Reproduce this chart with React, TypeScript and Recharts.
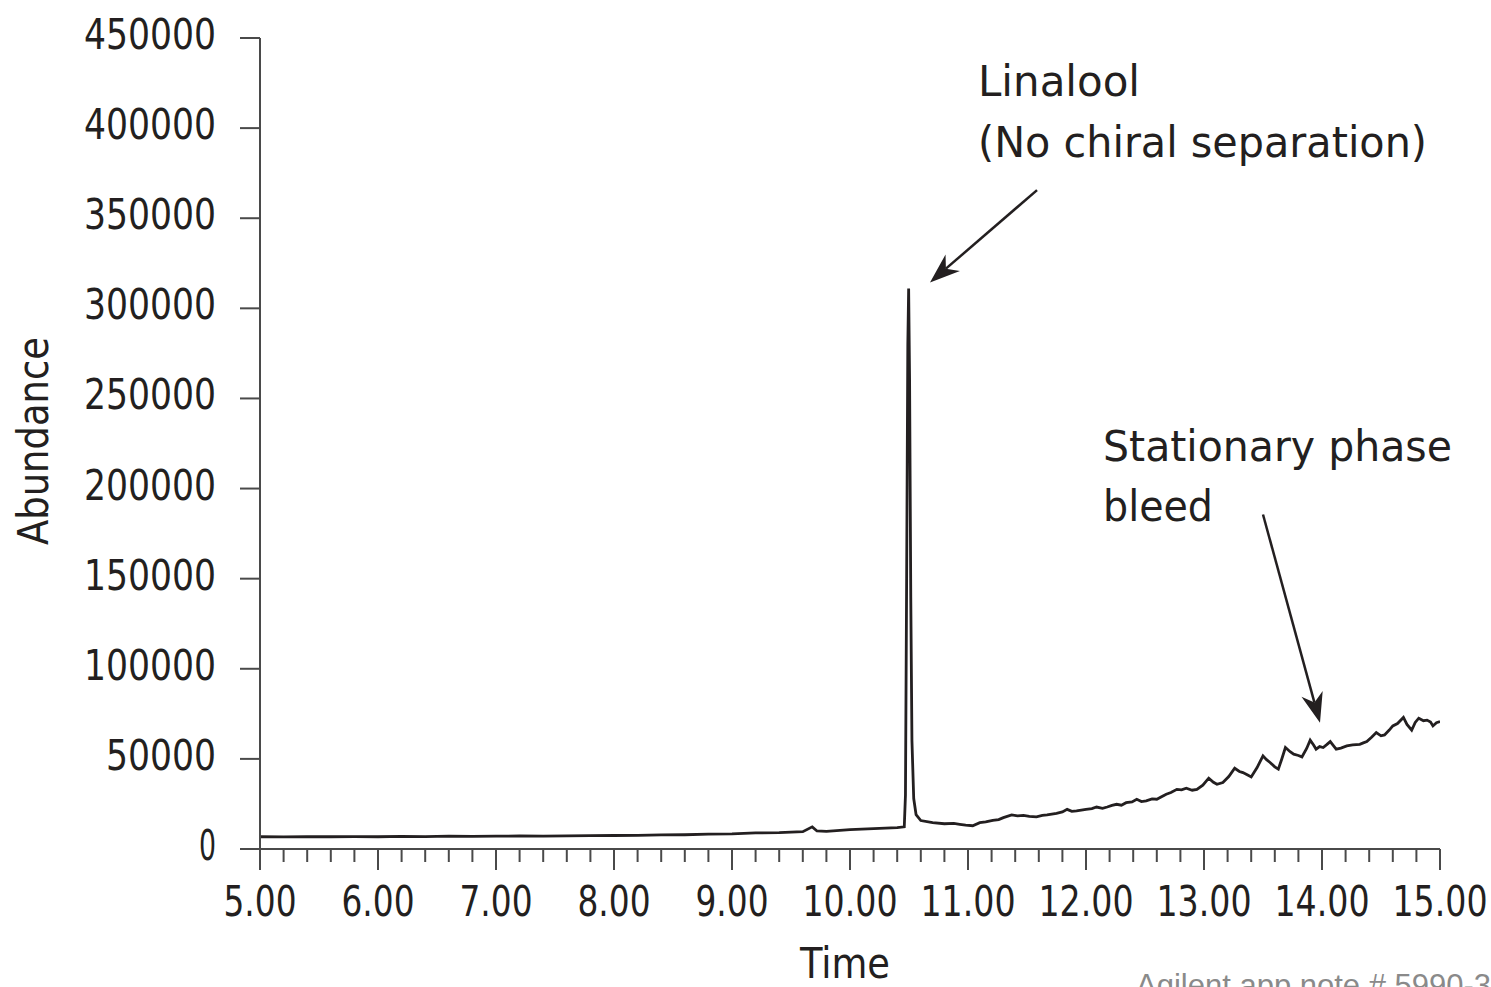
import { Line, LineChart, ReferenceLine, XAxis, YAxis } from "recharts";

const FONT = "'DejaVu Sans Condensed', 'DejaVu Sans', sans-serif";
const INK = "#231f20";
const AXIS = "#4a4a4a";

// retention time (min) and abundance, flat baseline before the linalool peak
const baselineTime = [
  5.0, 5.2, 5.4, 5.6, 5.8, 6.0, 6.2, 6.4, 6.6, 6.8, 7.0, 7.2, 7.4, 7.6, 7.8, 8.0, 8.2, 8.4,
  8.6, 8.8, 9.0, 9.2, 9.4, 9.6, 9.68, 9.72, 9.8, 10.0, 10.2, 10.4, 10.46,
];
const baselineAbundance = [
  6800, 6700, 6900, 6800, 6900, 6800, 7000, 6900, 7100, 7000, 7100, 7200, 7100, 7300, 7400,
  7500, 7600, 7800, 7900, 8200, 8400, 8900, 9100, 9600, 12300, 10000, 9800, 10800, 11300,
  11900, 12300,
];

// linalool elutes as one sharp peak (no chiral separation)
const peakTime = [10.47, 10.48, 10.49, 10.497, 10.505, 10.515, 10.525, 10.54, 10.56, 10.6, 10.7, 10.8, 10.88];
const peakAbundance = [30000, 150000, 280000, 311000, 260000, 140000, 60000, 28000, 19000, 15800, 14600, 14000, 14200];

// rising column bleed toward the end of the run
const bleedTime = [
  10.93, 10.98, 11.04, 11.1, 11.15, 11.21, 11.26, 11.3, 11.37, 11.42, 11.47, 11.52, 11.58, 11.63,
  11.67, 11.75, 11.8, 11.84, 11.88, 11.92, 12.0, 12.05, 12.09, 12.14, 12.18, 12.22, 12.26, 12.3,
  12.34, 12.39, 12.43, 12.47, 12.51, 12.56, 12.6, 12.64, 12.68, 12.72, 12.77, 12.81, 12.85, 12.9,
  12.94, 12.99, 13.04, 13.08, 13.11, 13.16, 13.21, 13.26, 13.3, 13.33, 13.37, 13.4, 13.45, 13.5,
  13.53, 13.56, 13.6, 13.63, 13.66, 13.69, 13.73, 13.76, 13.8, 13.83, 13.87, 13.9, 13.93, 13.95,
  13.98, 14.01, 14.04, 14.07, 14.1, 14.12, 14.16, 14.21, 14.26, 14.32, 14.35, 14.38, 14.42, 14.46,
  14.5, 14.53, 14.57, 14.6, 14.64, 14.69, 14.72, 14.76, 14.79, 14.82, 14.86, 14.89, 14.92, 14.94,
  14.97, 15.0,
];
const bleedAbundance = [
  13700, 13200, 12900, 14600, 15000, 15900, 16300, 17400, 18900, 18400, 18700, 18100, 17800, 18600,
  18900, 19800, 20600, 22000, 20900, 21100, 22000, 22400, 23300, 22600, 23300, 24200, 24800, 24300,
  25700, 26100, 27600, 26300, 26700, 27800, 27600, 29000, 30400, 31300, 33100, 32800, 33700, 32600,
  33100, 35400, 39300, 37000, 35900, 36900, 40200, 44800, 43000, 42400, 41000, 40000, 45200, 51700,
  49600, 48000, 45600, 44300, 50100, 56300, 54000, 52600, 51900, 51100, 55800, 60400, 57600, 55400,
  56800, 56300, 57900, 59600, 57100, 55400, 56000, 57200, 57800, 58100, 58900, 59600, 62000, 64600,
  62800, 63300, 66000, 68300, 69600, 73000, 69100, 65900, 70200, 72600, 71200, 71500, 70400, 68300,
  70100, 70700,
];

const yTicks = [0, 50000, 100000, 150000, 200000, 250000, 300000, 350000, 400000, 450000];
const xMajorTicks = [5, 6, 7, 8, 9, 10, 11, 12, 13, 14, 15];
const xTicks = xMajorTicks.flatMap((m) =>
  m === 15 ? [m] : [0, 0.2, 0.4, 0.6, 0.8].map((f) => Math.round((m + f) * 10) / 10)
);

const chartData = [
  ...baselineTime.map((t, i) => ({ time: t, abundance: baselineAbundance[i] })),
  ...peakTime.map((t, i) => ({ time: t, abundance: peakAbundance[i] })),
  ...bleedTime.map((t, i) => ({ time: t, abundance: bleedAbundance[i] })),
];

// condensed lettering: squeeze the text into a set width
function CondText({ width, children, ...rest }: any) {
  return (
    <text
      fontFamily={FONT}
      fontSize={42}
      fill={INK}
      style={{ fontStretch: "condensed" }}
      textLength={width}
      lengthAdjust="spacingAndGlyphs"
      {...rest}
    >
      {children}
    </text>
  );
}

function TimeTick(props: any) {
  const { x, y, payload } = props;
  const major = Number.isInteger(payload.value);
  const label = major ? payload.value.toFixed(2) : "";
  return (
    <g>
      <line x1={x} x2={x} y1={y} y2={y + (major ? 21 : 13)} stroke={AXIS} strokeWidth={2} />
      {major && (
        <CondText x={x} y={y + 67} textAnchor="middle" width={label.length === 4 ? 73 : 95}>
          {label}
        </CondText>
      )}
    </g>
  );
}

function AbundanceTick(props: any) {
  const { x, y, payload } = props;
  const label = String(payload.value);
  return (
    <CondText x={x} y={y + 11} textAnchor="end" width={label.length === 1 ? 17 : label.length * 22}>
      {label}
    </CondText>
  );
}

function Arrow(props: any) {
  const { x1, y1, x2, y2 } = props;
  const dx = x2 - x1;
  const dy = y2 - y1;
  const len = Math.sqrt(dx * dx + dy * dy);
  const ux = dx / len;
  const uy = dy / len;
  const head = 30;
  const half = 11;
  const bx = x2 - ux * head;
  const by = y2 - uy * head;
  const nx = x2 - ux * head * 0.7;
  const ny = y2 - uy * head * 0.7;
  const pts = [
    [x2, y2],
    [bx - uy * half, by + ux * half],
    [nx, ny],
    [bx + uy * half, by - ux * half],
  ]
    .map((p) => p.join(","))
    .join(" ");
  return (
    <g>
      <line x1={x1} y1={y1} x2={nx} y2={ny} stroke={INK} strokeWidth={2.5} />
      <polygon points={pts} fill={INK} />
    </g>
  );
}

export default function App() {
  return (
    <div
      style={{
        position: "absolute",
        left: 0,
        top: 0,
        width: 1491,
        height: 987,
        overflow: "hidden",
        background: "#fff",
      }}
    >
      <LineChart
        width={1491}
        height={987}
        data={chartData}
        margin={{ top: 38, right: 51, left: 60, bottom: 78 }}
      >
        <XAxis
          dataKey="time"
          type="number"
          domain={[5, 15]}
          ticks={xTicks}
          interval={0}
          allowDataOverflow
          height={60}
          tickSize={0}
          tickMargin={0}
          tickLine={false}
          axisLine={{ stroke: AXIS, strokeWidth: 2 }}
          tick={<TimeTick />}
        />
        <YAxis
          type="number"
          domain={[0, 450000]}
          ticks={yTicks}
          interval={0}
          width={200}
          tickSize={20}
          tickMargin={24}
          axisLine={{ stroke: AXIS, strokeWidth: 2 }}
          tickLine={{ stroke: AXIS, strokeWidth: 2 }}
          tick={<AbundanceTick />}
        />
        <Line
          dataKey="abundance"
          type="linear"
          stroke={INK}
          strokeWidth={2.8}
          dot={false}
          isAnimationActive={false}
        />
        <ReferenceLine
          segment={[
            { x: 11.585, y: 365600 },
            { x: 10.678, y: 314400 },
          ]}
          ifOverflow="visible"
          shape={<Arrow />}
        />
        <ReferenceLine
          segment={[
            { x: 13.5, y: 185600 },
            { x: 13.983, y: 70000 },
          ]}
          ifOverflow="visible"
          shape={<Arrow />}
        />
      </LineChart>
      <svg
        width={1491}
        height={987}
        style={{ position: "absolute", left: 0, top: 0, pointerEvents: "none" }}
      >
        <CondText x={978} y={96} width={162}>Linalool</CondText>
        <CondText x={978} y={157} width={449}>(No chiral separation)</CondText>
        <CondText x={1103} y={461} width={349}>Stationary phase</CondText>
        <CondText x={1103} y={521} width={110}>bleed</CondText>
        <CondText x={845} y={978} textAnchor="middle" width={90}>Time</CondText>
        <CondText x={48} y={441} textAnchor="middle" width={208} transform="rotate(-90 48 441)">
          Abundance
        </CondText>
        <text
          x={1136}
          y={996}
          style={{ fontFamily: "'Liberation Sans', Arial, sans-serif", fontSize: 31, fill: "#8a8a8a" }}
        >
          Agilent app note # 5990-3
        </text>
      </svg>
    </div>
  );
}
